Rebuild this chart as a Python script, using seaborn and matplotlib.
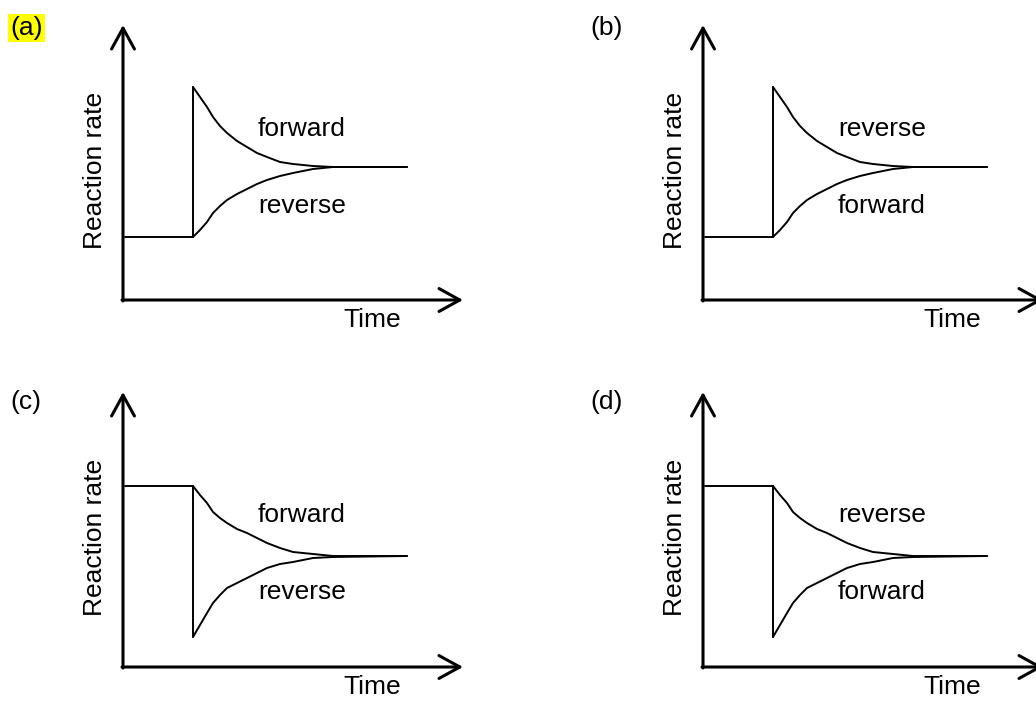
import matplotlib
matplotlib.use("Agg")
import pandas as pd
import matplotlib.pyplot as plt
import seaborn as sns

sns.set_theme(style="white")
plt.rcParams['font.family'] = ['Liberation Sans', 'DejaVu Sans']
plt.rcParams['text.color'] = 'black'

switch_time = 70
baseline_start = 2
curve_time = [70, 77, 84, 90, 97, 104, 114, 124, 134, 144, 157, 170, 190, 210, 284]

# panels (a) and (b): rates jump up, then settle
rise_base = 63
rise_upper = [213, 203, 193, 183, 174, 167, 159, 153, 147, 143, 138, 136, 134, 133, 133]
rise_lower = [63, 70, 78, 87, 94, 100, 106, 111, 116, 120, 124, 127, 131, 133, 133]

# panels (c) and (d): rates drop, then settle
drop_base = 181
drop_upper = [181, 172, 164, 155, 149, 144, 138, 134, 129, 124, 119, 115, 113, 111, 111]
drop_lower = [30, 42, 54, 64, 72, 79, 84, 89, 94, 99, 103, 105, 109, 110, 111]

panel_names = ['(a)', '(b)', '(c)', '(d)']
upper_names = ['forward', 'reverse', 'forward', 'reverse']
lower_names = ['reverse', 'forward', 'reverse', 'forward']

fig = plt.figure(figsize=(10.36, 7.02), dpi=100)
W, H = 1036, 702

# origin of each panel in pixels (x from left, y from top)
origins = [(123, 300), (703, 300), (123, 667), (703, 667)]

for i, name in enumerate(panel_names):
    ox, oy = origins[i]
    ax = fig.add_axes([(ox - 5) / W, (H - oy - 5) / H, 350 / W, 285 / H])
    ax.set_xlim(-5, 345)
    ax.set_ylim(-5, 280)
    ax.axis('off')

    if i < 2:
        base, upper, lower = rise_base, rise_upper, rise_lower
        name_y, up_y, low_y = 272, 171, 94
    else:
        base, upper, lower = drop_base, drop_upper, drop_lower
        name_y, up_y, low_y = 265, 152, 75

    lw = 1.4
    sns.lineplot(x=[baseline_start, switch_time], y=[base, base], ax=ax,
                 color='black', linewidth=lw, legend=False)
    sns.lineplot(x=[switch_time, switch_time], y=[lower[0], upper[0]], ax=ax,
                 color='black', linewidth=lw, legend=False, sort=False, estimator=None)
    curves = pd.DataFrame({'t': curve_time * 2, 'rate': upper + lower,
                           'which': ['up'] * len(upper) + ['low'] * len(lower)})
    sns.lineplot(data=curves, x='t', y='rate', units='which', estimator=None,
                 ax=ax, color='black', linewidth=lw, legend=False)

    # axes drawn as arrows
    arrow = dict(arrowstyle='->,head_length=1.0,head_width=0.55',
                 mutation_scale=15, lw=2.2, color='black', shrinkA=0, shrinkB=0)
    ax.annotate('', xy=(0, 275), xytext=(0, -1), arrowprops=arrow, annotation_clip=False)
    ax.annotate('', xy=(340, 0), xytext=(-1, 0), arrowprops=arrow, annotation_clip=False)

    ax.text(135, up_y, upper_names[i], fontsize=19, va='center', ha='left')
    ax.text(135, low_y, lower_names[i], fontsize=19, va='center', ha='left')
    ax.text(220, -20, 'Time', fontsize=19, va='center', ha='left')
    ax.text(-28, 130, 'Reaction rate', fontsize=19, rotation=90,
            va='center', ha='center')

    kw = {}
    if i == 0:
        kw['bbox'] = dict(facecolor='#ffff00', edgecolor='none', pad=1.5)
    ax.text(-113, name_y, name, fontsize=19, va='center', ha='left', **kw)

fig.savefig('out.png', dpi=100)
